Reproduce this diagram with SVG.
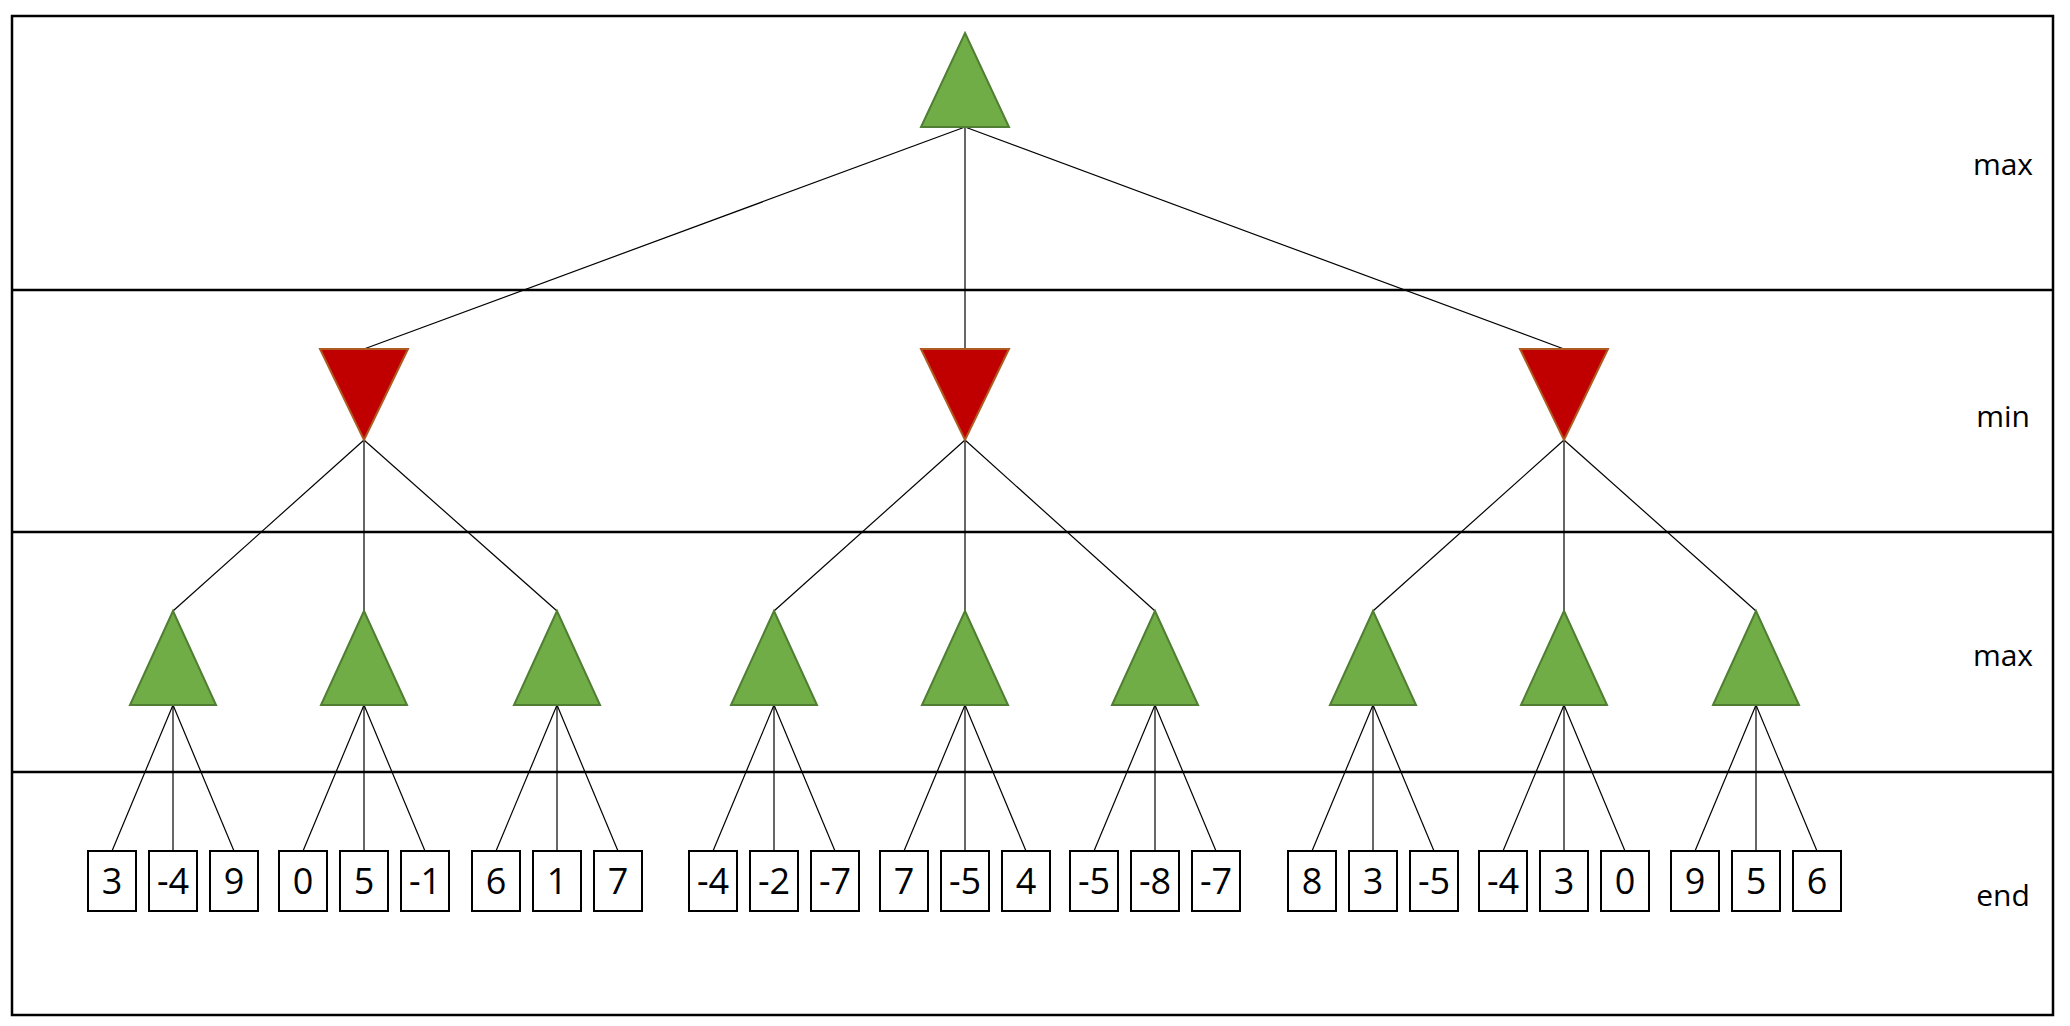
<svg xmlns="http://www.w3.org/2000/svg" width="2070" height="1026" viewBox="0 0 2070 1026">
<style>
.max{fill:#70AD47;stroke:#507E32;stroke-width:2}
.min{fill:#C00000;stroke:#AE5A21;stroke-width:2}
.box{fill:#fff;stroke:#000;stroke-width:2}
.v{font-family:"Open Sans","Liberation Sans",sans-serif;font-size:36px;text-anchor:middle;fill:#000}
.lbl{font-family:"Open Sans","Liberation Sans",sans-serif;font-size:30px;text-anchor:middle;fill:#000}
.e line{stroke:#000;stroke-width:1.2}
.frame{fill:none;stroke:#000;stroke-width:2.5}
</style>
<rect width="2070" height="1026" fill="#fff"/>
<g id="frame">
<rect class="frame" x="12" y="16" width="2041" height="999"/>
<line class="frame" x1="12" y1="290" x2="2053" y2="290"/>
<line class="frame" x1="12" y1="532" x2="2053" y2="532"/>
<line class="frame" x1="12" y1="772" x2="2053" y2="772"/>
<text class="lbl" x="2003" y="175">max</text>
<text class="lbl" x="2003" y="427">min</text>
<text class="lbl" x="2003" y="666">max</text>
<text class="lbl" x="2003" y="906">end</text>
</g>
<g id="connectors" class="e">
<line x1="965" y1="127" x2="364" y2="349"/><line x1="965" y1="127" x2="965" y2="349"/><line x1="965" y1="127" x2="1564" y2="349"/>
<line x1="364" y1="440" x2="173" y2="611"/><line x1="364" y1="440" x2="364" y2="611"/><line x1="364" y1="440" x2="557" y2="611"/>
<line x1="965" y1="440" x2="774" y2="611"/><line x1="965" y1="440" x2="965" y2="611"/><line x1="965" y1="440" x2="1155" y2="611"/>
<line x1="1564" y1="440" x2="1373" y2="611"/><line x1="1564" y1="440" x2="1564" y2="611"/><line x1="1564" y1="440" x2="1756" y2="611"/>
<line x1="173" y1="705" x2="112" y2="851"/><line x1="173" y1="705" x2="173" y2="851"/><line x1="173" y1="705" x2="234" y2="851"/>
<line x1="364" y1="705" x2="303" y2="851"/><line x1="364" y1="705" x2="364" y2="851"/><line x1="364" y1="705" x2="425" y2="851"/>
<line x1="557" y1="705" x2="496" y2="851"/><line x1="557" y1="705" x2="557" y2="851"/><line x1="557" y1="705" x2="618" y2="851"/>
<line x1="774" y1="705" x2="713" y2="851"/><line x1="774" y1="705" x2="774" y2="851"/><line x1="774" y1="705" x2="835" y2="851"/>
<line x1="965" y1="705" x2="904" y2="851"/><line x1="965" y1="705" x2="965" y2="851"/><line x1="965" y1="705" x2="1026" y2="851"/>
<line x1="1155" y1="705" x2="1094" y2="851"/><line x1="1155" y1="705" x2="1155" y2="851"/><line x1="1155" y1="705" x2="1216" y2="851"/>
<line x1="1373" y1="705" x2="1312" y2="851"/><line x1="1373" y1="705" x2="1373" y2="851"/><line x1="1373" y1="705" x2="1434" y2="851"/>
<line x1="1564" y1="705" x2="1503" y2="851"/><line x1="1564" y1="705" x2="1564" y2="851"/><line x1="1564" y1="705" x2="1625" y2="851"/>
<line x1="1756" y1="705" x2="1695" y2="851"/><line x1="1756" y1="705" x2="1756" y2="851"/><line x1="1756" y1="705" x2="1817" y2="851"/>
</g>
<g id="root"><polygon class="max" points="965,33 1009,127 921,127"/></g>
<g id="min1"><polygon class="min" points="320,349 408,349 364,440"/></g>
<g id="min2"><polygon class="min" points="921,349 1009,349 965,440"/></g>
<g id="min3"><polygon class="min" points="1520,349 1608,349 1564,440"/></g>
<g id="max1"><polygon class="max" points="173,611 216,705 130,705"/></g>
<g id="max2"><polygon class="max" points="364,611 407,705 321,705"/></g>
<g id="max3"><polygon class="max" points="557,611 600,705 514,705"/></g>
<g id="max4"><polygon class="max" points="774,611 817,705 731,705"/></g>
<g id="max5"><polygon class="max" points="965,611 1008,705 922,705"/></g>
<g id="max6"><polygon class="max" points="1155,611 1198,705 1112,705"/></g>
<g id="max7"><polygon class="max" points="1373,611 1416,705 1330,705"/></g>
<g id="max8"><polygon class="max" points="1564,611 1607,705 1521,705"/></g>
<g id="max9"><polygon class="max" points="1756,611 1799,705 1713,705"/></g>
<g id="leaves">
<g id="l1"><rect class="box" x="88" y="851" width="48" height="60"/><text class="v" x="112" y="894">3</text></g>
<g id="l2"><rect class="box" x="149" y="851" width="48" height="60"/><text class="v" x="173" y="894">-4</text></g>
<g id="l3"><rect class="box" x="210" y="851" width="48" height="60"/><text class="v" x="234" y="894">9</text></g>
<g id="l4"><rect class="box" x="279" y="851" width="48" height="60"/><text class="v" x="303" y="894">0</text></g>
<g id="l5"><rect class="box" x="340" y="851" width="48" height="60"/><text class="v" x="364" y="894">5</text></g>
<g id="l6"><rect class="box" x="401" y="851" width="48" height="60"/><text class="v" x="425" y="894">-1</text></g>
<g id="l7"><rect class="box" x="472" y="851" width="48" height="60"/><text class="v" x="496" y="894">6</text></g>
<g id="l8"><rect class="box" x="533" y="851" width="48" height="60"/><text class="v" x="557" y="894">1</text></g>
<g id="l9"><rect class="box" x="594" y="851" width="48" height="60"/><text class="v" x="618" y="894">7</text></g>
<g id="l10"><rect class="box" x="689" y="851" width="48" height="60"/><text class="v" x="713" y="894">-4</text></g>
<g id="l11"><rect class="box" x="750" y="851" width="48" height="60"/><text class="v" x="774" y="894">-2</text></g>
<g id="l12"><rect class="box" x="811" y="851" width="48" height="60"/><text class="v" x="835" y="894">-7</text></g>
<g id="l13"><rect class="box" x="880" y="851" width="48" height="60"/><text class="v" x="904" y="894">7</text></g>
<g id="l14"><rect class="box" x="941" y="851" width="48" height="60"/><text class="v" x="965" y="894">-5</text></g>
<g id="l15"><rect class="box" x="1002" y="851" width="48" height="60"/><text class="v" x="1026" y="894">4</text></g>
<g id="l16"><rect class="box" x="1070" y="851" width="48" height="60"/><text class="v" x="1094" y="894">-5</text></g>
<g id="l17"><rect class="box" x="1131" y="851" width="48" height="60"/><text class="v" x="1155" y="894">-8</text></g>
<g id="l18"><rect class="box" x="1192" y="851" width="48" height="60"/><text class="v" x="1216" y="894">-7</text></g>
<g id="l19"><rect class="box" x="1288" y="851" width="48" height="60"/><text class="v" x="1312" y="894">8</text></g>
<g id="l20"><rect class="box" x="1349" y="851" width="48" height="60"/><text class="v" x="1373" y="894">3</text></g>
<g id="l21"><rect class="box" x="1410" y="851" width="48" height="60"/><text class="v" x="1434" y="894">-5</text></g>
<g id="l22"><rect class="box" x="1479" y="851" width="48" height="60"/><text class="v" x="1503" y="894">-4</text></g>
<g id="l23"><rect class="box" x="1540" y="851" width="48" height="60"/><text class="v" x="1564" y="894">3</text></g>
<g id="l24"><rect class="box" x="1601" y="851" width="48" height="60"/><text class="v" x="1625" y="894">0</text></g>
<g id="l25"><rect class="box" x="1671" y="851" width="48" height="60"/><text class="v" x="1695" y="894">9</text></g>
<g id="l26"><rect class="box" x="1732" y="851" width="48" height="60"/><text class="v" x="1756" y="894">5</text></g>
<g id="l27"><rect class="box" x="1793" y="851" width="48" height="60"/><text class="v" x="1817" y="894">6</text></g>
</g>
</svg>
